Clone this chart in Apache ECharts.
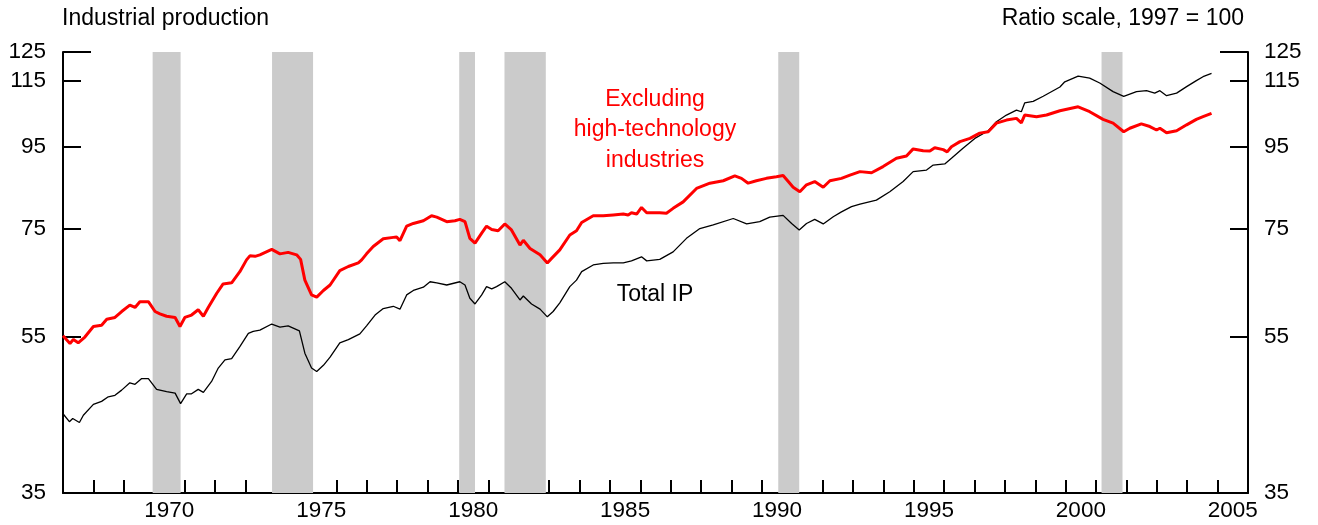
<!DOCTYPE html>
<html><head><meta charset="utf-8">
<script src="https://cdn.jsdelivr.net/npm/echarts@6/dist/echarts.min.js"></script>
<style>html,body{margin:0;padding:0;background:#fff}#c{width:1318px;height:525px}</style>
</head><body><div id="c"></div>
<script>
// Excluding high-technology industries (red)
const exDates = [1967.0,1967.23,1967.34,1967.50,1967.72,1968.0,1968.27,1968.44,1968.71,1968.93,1969.20,1969.37,1969.53,1969.81,1970.03,1970.19,1970.41,1970.69,1970.85,1971.01,1971.23,1971.45,1971.62,1971.78,1972.06,1972.27,1972.55,1972.82,1973.04,1973.15,1973.32,1973.48,1973.87,1974.14,1974.41,1974.69,1974.82,1974.96,1975.18,1975.35,1975.57,1975.79,1976.11,1976.39,1976.72,1976.83,1976.99,1977.21,1977.54,1977.87,1977.98,1978.09,1978.31,1978.53,1978.86,1979.13,1979.30,1979.63,1979.90,1980.06,1980.23,1980.39,1980.56,1980.78,1980.94,1981.11,1981.32,1981.54,1981.76,1982.04,1982.15,1982.37,1982.70,1982.94,1983.08,1983.35,1983.68,1983.90,1984.07,1984.45,1984.78,1985.11,1985.44,1985.60,1985.71,1985.88,1986.04,1986.21,1986.64,1986.86,1987.08,1987.41,1987.85,1988.29,1988.73,1989.11,1989.33,1989.55,1989.82,1990.15,1990.48,1990.70,1990.87,1991.03,1991.25,1991.47,1991.74,1992.02,1992.24,1992.62,1992.90,1993.23,1993.61,1993.99,1994.43,1994.76,1994.98,1995.31,1995.53,1995.69,1995.97,1996.10,1996.24,1996.52,1996.85,1997.17,1997.45,1997.72,1998.05,1998.38,1998.54,1998.65,1999.04,1999.37,1999.81,2000.41,2000.79,2001.23,2001.56,2001.91,2002.11,2002.49,2002.77,2002.99,2003.10,2003.32,2003.65,2003.98,2004.30,2004.52,2004.80];
const exValues = [55.1,53.9,54.5,54.0,54.9,56.6,56.8,57.8,58.1,59.1,60.2,59.8,60.8,60.8,59.1,58.7,58.3,58.1,56.6,58.1,58.5,59.4,58.3,59.8,62.3,64.0,64.2,66.3,68.6,69.4,69.3,69.6,70.7,69.8,70.1,69.6,68.7,64.7,62.0,61.6,62.8,63.8,66.5,67.3,68.0,68.6,69.8,71.3,72.9,73.2,73.3,72.5,75.6,76.2,76.8,77.9,77.6,76.6,76.8,77.1,76.6,73.0,72.0,74.1,75.6,74.9,74.6,76.1,74.8,71.6,72.6,70.9,69.6,68.0,68.9,70.6,73.7,74.6,76.4,77.9,77.9,78.1,78.3,78.1,78.6,78.3,79.8,78.6,78.6,78.5,79.6,81.1,84.3,85.6,86.2,87.4,86.8,85.6,86.2,86.8,87.2,87.5,86.0,84.6,83.5,85.2,86.0,84.6,86.2,86.8,87.6,88.5,88.2,89.8,92.0,92.6,94.5,94.0,93.9,94.8,94.3,93.7,95.1,96.5,97.4,98.9,99.3,101.8,102.7,103.2,101.9,104.2,103.7,104.2,105.5,106.7,105.2,102.9,101.8,99.3,100.3,101.6,100.8,99.8,100.3,99.0,99.6,101.3,102.9,103.7,104.7];

// Total IP (black)
const ipDates = [1967.0,1967.21,1967.32,1967.54,1967.67,1968.0,1968.27,1968.49,1968.71,1968.93,1969.20,1969.37,1969.59,1969.81,1970.08,1970.41,1970.69,1970.87,1971.07,1971.23,1971.45,1971.62,1971.89,1972.11,1972.33,1972.55,1972.82,1973.10,1973.26,1973.48,1973.87,1974.14,1974.41,1974.78,1974.96,1975.18,1975.35,1975.57,1975.79,1976.11,1976.39,1976.77,1976.99,1977.27,1977.54,1977.87,1978.09,1978.31,1978.53,1978.86,1979.08,1979.30,1979.63,1980.06,1980.23,1980.39,1980.56,1980.78,1980.94,1981.11,1981.27,1981.54,1981.76,1982.04,1982.15,1982.42,1982.70,1982.94,1983.13,1983.35,1983.68,1983.90,1984.07,1984.45,1984.78,1985.11,1985.44,1985.71,1986.04,1986.21,1986.64,1987.08,1987.52,1987.96,1988.40,1989.06,1989.50,1989.93,1990.26,1990.70,1990.98,1991.23,1991.47,1991.74,1992.02,1992.35,1992.62,1992.95,1993.23,1993.77,1994.21,1994.65,1994.98,1995.42,1995.64,1996.02,1996.24,1996.62,1997.01,1997.45,1997.72,1998.05,1998.38,1998.54,1998.65,1998.93,1999.26,1999.81,1999.97,2000.41,2000.79,2001.12,2001.56,2001.91,2002.33,2002.66,2002.93,2003.10,2003.32,2003.65,2003.98,2004.30,2004.52,2004.80];
const ipValues = [44.0,43.0,43.4,42.9,43.8,45.2,45.6,46.2,46.4,47.1,48.1,47.9,48.7,48.7,47.2,46.9,46.7,45.3,46.6,46.6,47.2,46.8,48.3,50.2,51.4,51.6,53.4,55.5,55.8,56.0,57.0,56.5,56.7,55.9,52.4,50.2,49.7,50.6,51.8,54.0,54.5,55.4,56.7,58.5,59.6,60.0,59.5,62.0,62.8,63.4,64.4,64.2,63.8,64.4,63.8,61.4,60.4,62.0,63.5,63.1,63.5,64.4,63.2,61.1,61.8,60.4,59.5,58.2,59.1,60.6,63.5,64.7,66.3,67.6,67.9,68.0,68.0,68.4,69.2,68.4,68.7,70.2,73.0,75.1,75.9,77.3,76.1,76.6,77.6,78.0,76.2,74.8,76.2,77.1,76.1,77.7,78.8,80.0,80.6,81.5,83.5,86.0,88.5,88.9,90.2,90.5,92.0,94.7,97.4,99.6,102.2,104.2,105.7,105.2,107.9,108.4,110.0,113.0,114.7,116.6,115.9,114.3,111.5,110.0,111.5,111.8,111.0,111.8,110.2,111.0,113.1,115.1,116.4,117.5];

// Recessions
const recStart = [1969.95, 1973.88, 1980.04, 1981.53, 1990.54, 2001.18];
const recEnd   = [1970.87, 1975.23, 1980.56, 1982.89, 1991.23, 2001.87];

// Axis ticks / labels
const yTickValues = [35, 55, 75, 95, 115];
const yLabelValues = [35, 55, 75, 95, 115, 125];
const yTopValue = [125];
const xLabelYears = [1970, 1975, 1980, 1985, 1990, 1995, 2000, 2005];

const FONT = '"Liberation Sans", Arial, Helvetica, sans-serif';
const chart = echarts.init(document.getElementById('c'), null, {renderer: 'canvas'});

function yAx(pos, withLabels, tickVals, tickLen) {
  return {
    type: 'log', logBase: 10, min: 35, max: 125, position: pos,
    axisLine: {show: withLabels, lineStyle: {color: '#000', width: 2}},
    axisTick: {show: true, inside: true, length: tickLen, customValues: tickVals,
      lineStyle: {color: '#000', width: 2}},
    axisLabel: withLabels ? {show: true, customValues: yLabelValues, margin: pos === 'left' ? 17 : 16,
      color: '#000', fontSize: 22.5, fontFamily: FONT} : {show: false},
    splitLine: {show: false}
  };
}

const option = {
  animation: false,
  backgroundColor: '#fff',
  grid: {left: 63, right: 70, top: 52, bottom: 32, containLabel: false},
  xAxis: {
    type: 'value', min: 1967, max: 2006, interval: 1,
    axisLine: {onZero: false, lineStyle: {color: '#000', width: 2}},
    axisTick: {show: true, inside: true, length: 13, lineStyle: {color: '#000', width: 2}},
    axisLabel: {customValues: xLabelYears.map(y => y + 0.5), formatter: v => String(Math.floor(v)),
      color: '#000', fontSize: 22.5, fontFamily: FONT, margin: 6},
    splitLine: {show: false}
  },
  yAxis: [
    yAx('left', true, yTickValues, 18),
    yAx('right', true, yTickValues, 18),
    yAx('left', false, yTopValue, 28),
    yAx('right', false, yTopValue, 28)
  ],
  series: [
    {
      type: 'line', data: [], silent: true, z: 1,
      markArea: {silent: true, itemStyle: {color: '#cbcbcb'},
        data: recStart.map((s, i) => [{xAxis: s}, {xAxis: recEnd[i]}])}
    },
    {
      name: 'Total IP', type: 'line', z: 3, showSymbol: false,
      data: ipDates.map((d, i) => [d, ipValues[i]]),
      lineStyle: {color: '#000', width: 1.3}
    },
    {
      name: 'Excluding high-technology industries', type: 'line', z: 4, showSymbol: false,
      data: exDates.map((d, i) => [d, exValues[i]]),
      lineStyle: {color: '#ff0000', width: 3}
    }
  ],
  graphic: [
    {type: 'text', x: 62, y: 19, style: {text: 'Industrial production', fill: '#000',
      font: '23px ' + FONT, align: 'left', verticalAlign: 'middle'}},
    {type: 'text', x: 1244, y: 19, style: {text: 'Ratio scale, 1997 = 100', fill: '#000',
      font: '23px ' + FONT, align: 'right', verticalAlign: 'middle'}},
    {type: 'text', x: 655, y: 130, style: {text: 'Excluding\nhigh-technology\nindustries', fill: '#ff0000',
      font: '23px ' + FONT, align: 'center', verticalAlign: 'middle', lineHeight: 30.5}},
    {type: 'text', x: 655, y: 295, style: {text: 'Total IP', fill: '#000',
      font: '23px ' + FONT, align: 'center', verticalAlign: 'middle'}}
  ]
};
chart.setOption(option);
</script>
</body></html>
